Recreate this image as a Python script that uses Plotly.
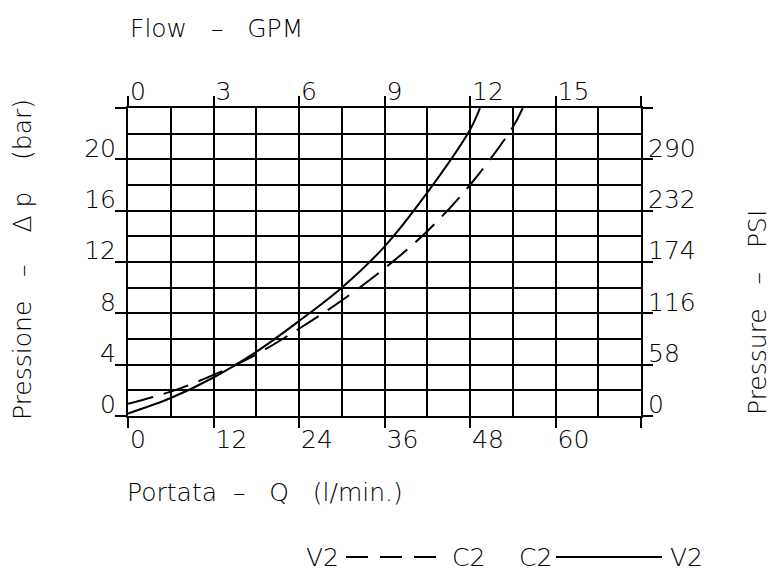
import plotly.graph_objects as go

# Flow (l/min) and pressure drop (bar) readings for the two flow directions
flow_lpm = [0, 6, 12, 18, 24, 30, 36, 42, 48, 49.4]
dp_c2_v2 = [0.2, 1.4, 3.0, 5.0, 7.4, 10.0, 13.2, 17.4, 22.3, 24.0]

flow_lpm_rev = [0, 6, 12, 18, 24, 30, 36, 42, 48, 54, 55.4]
dp_v2_c2 = [0.95, 1.9, 3.2, 4.8, 6.8, 9.0, 11.5, 14.4, 18.0, 22.5, 24.0]

# Axis ticks
lpm_ticks = [0, 12, 24, 36, 48, 60, 72]
lpm_labels = ["0", "12", "24", "36", "48", "60", ""]
gpm_ticks = [0, 3, 6, 9, 12, 15, 18]
gpm_labels = ["0", "3", "6", "9", "12", "15", ""]
bar_ticks = [0, 4, 8, 12, 16, 20, 24]
bar_labels = ["0", "4", "8", "12", "16", "20", ""]
psi_ticks = [0, 58, 116, 174, 232, 290, 348]
psi_labels = ["0", "58", "116", "174", "232", "290", ""]

W, H = 771, 572
ML, MR, MT, MB = 128, 130, 108, 156
PW, PH = W - ML - MR, H - MT - MB

FONT = dict(family="DejaVu Sans, Liberation Sans, sans-serif", size=25, color="black", weight=200)
INK = "black"
LW = 2


def px_x(px):
    return (px - ML) / PW


def px_y(py):
    return (H - MB - py) / PH


fig = go.Figure()

fig.add_trace(go.Scatter(
    x=flow_lpm, y=dp_c2_v2, mode="lines", line=dict(color=INK, width=2, shape="spline"),
    showlegend=False, hoverinfo="skip"))
fig.add_trace(go.Scatter(
    x=flow_lpm_rev, y=dp_v2_c2, mode="lines",
    line=dict(color=INK, width=2, shape="spline", dash="26px,11px"),
    showlegend=False, hoverinfo="skip"))
# anchor trace so the GPM / PSI axes are drawn
fig.add_trace(go.Scatter(x=[None], y=[None], xaxis="x2", yaxis="y2",
                         showlegend=False, hoverinfo="skip"))

common = dict(showline=True, linecolor=INK, linewidth=LW, ticks="outside",
              tickcolor=INK, tickwidth=LW, zeroline=False, tickfont=FONT,
              fixedrange=True)

fig.update_layout(
    width=W, height=H,
    margin=dict(l=ML, r=MR, t=MT, b=MB, pad=0),
    paper_bgcolor="white", plot_bgcolor="white",
    font=FONT,
    xaxis=dict(range=[0, 72], tickvals=lpm_ticks, ticktext=lpm_labels,
               ticklen=10, ticklabelposition="outside right",
               showgrid=True, gridcolor=INK, gridwidth=LW,
               minor=dict(dtick=6, tick0=0, showgrid=True, gridcolor=INK, gridwidth=LW),
               **common),
    yaxis=dict(range=[0, 24], tickvals=bar_ticks, ticktext=bar_labels,
               ticklen=11, ticklabelposition="outside top", ticklabelshift=7,
               ticklabelstandoff=5,
               showgrid=True, gridcolor=INK, gridwidth=LW,
               minor=dict(dtick=2, tick0=0, showgrid=True, gridcolor=INK, gridwidth=LW),
               **common),
    xaxis2=dict(range=[0, 18], tickvals=gpm_ticks, ticktext=gpm_labels,
                overlaying="x", side="top", anchor="y",
                ticklen=10, ticklabelposition="outside right", ticklabelstandoff=-4,
                showgrid=False,
                **common),
    yaxis2=dict(range=[0, 348], tickvals=psi_ticks, ticktext=psi_labels,
                overlaying="y", side="right", anchor="x",
                ticklen=10, ticklabelposition="outside top", ticklabelshift=7,
                showgrid=False,
                **common),
)

NB = "\u00a0"
titles = [
    ("Flow" + NB * 3 + "–" + NB * 3 + "GPM", 128, 29, 0, "left"),
    ("Portata" + NB * 2 + "–" + NB * 3 + "Q" + NB * 3 + "(l/min.)", 125, 492, 0, "left"),
    ("Pressione" + NB * 3 + "–" + NB * 4 + "Δ" + NB + "p" + NB * 4 + "(bar)", 22, 260, -90, "center"),
    ("Pressure" + NB * 3 + "–" + NB * 3 + "PSI", 757, 313, -90, "center"),
]
for text, x, y, ang, anchor in titles:
    fig.add_annotation(text=text, xref="paper", yref="paper", x=px_x(x), y=px_y(y),
                       xanchor=anchor, yanchor="middle", textangle=ang,
                       showarrow=False, font=FONT)

# key: flow direction labels with line samples
key_y = 557
for text, x in [("V2", 322), ("C2", 468), ("C2", 535), ("V2", 686)]:
    fig.add_annotation(text=text, xref="paper", yref="paper", x=px_x(x), y=px_y(key_y),
                       xanchor="center", yanchor="middle", showarrow=False, font=FONT)
fig.add_shape(type="line", xref="paper", yref="paper",
              x0=px_x(346), x1=px_x(445), y0=px_y(key_y), y1=px_y(key_y),
              line=dict(color=INK, width=LW, dash="22px,12px"))
fig.add_shape(type="line", xref="paper", yref="paper",
              x0=px_x(556), x1=px_x(662), y0=px_y(key_y), y1=px_y(key_y),
              line=dict(color=INK, width=LW))

fig.write_html("out.html")
